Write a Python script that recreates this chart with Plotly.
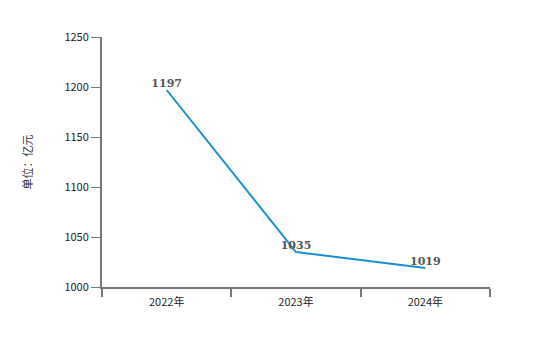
import plotly.graph_objects as go

categories = ["2022年", "2023年", "2024年"]
values = [1197, 1035, 1019]
y_ticks = [1000, 1050, 1100, 1150, 1200, 1250]

fig = go.Figure()
fig.add_trace(go.Scatter(
    x=categories, y=values, mode="lines+text",
    line=dict(color="#1a90d0", width=2),
    text=[str(v) for v in values], textposition="top center",
    textfont=dict(family="DejaVu Serif", size=11, color="#555555", weight="bold"),
    cliponaxis=False, hoverinfo="skip",
))

fig.update_layout(
    width=560, height=346,
    margin=dict(l=102, r=70, t=37, b=59),
    paper_bgcolor="white", plot_bgcolor="white",
    showlegend=False,
    font=dict(family="Noto Sans CJK SC, DejaVu Sans", size=11, color="#222222"),
)
fig.update_xaxes(
    type="category", range=[-0.5, 2.5], tickson="boundaries",
    showline=True, linecolor="#777777", linewidth=2,
    ticks="outside", ticklen=8, tickcolor="#777777", tickwidth=2,
    showgrid=False, zeroline=False, ticklabelstandoff=4,
    tickfont=dict(size=11, color="#222222"),
)
fig.update_yaxes(
    range=[1000, 1250], tickvals=y_ticks,
    showline=True, linecolor="#777777", linewidth=2,
    ticks="outside", ticklen=9, tickcolor="#777777", tickwidth=1,
    showgrid=False, zeroline=False,
    tickfont=dict(size=11, color="#222222"),
    title=dict(text="单位：亿元", font=dict(size=11, color="#333333"), standoff=30),
)

fig.write_html("out.html")
